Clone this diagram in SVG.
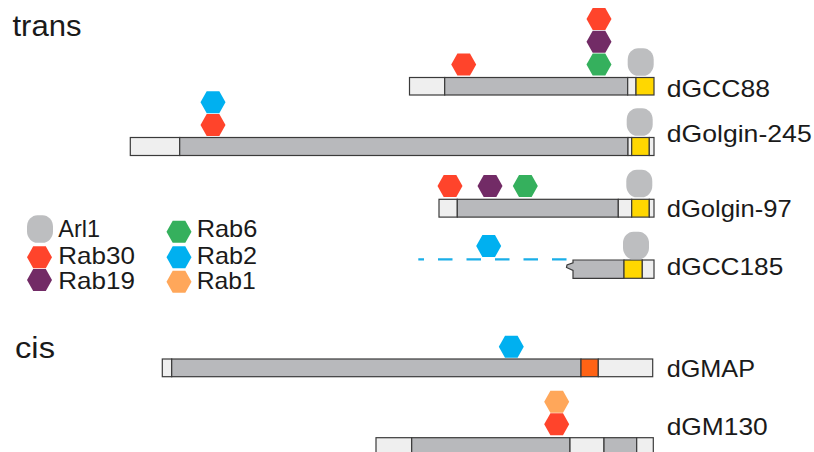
<svg xmlns="http://www.w3.org/2000/svg" xmlns:xlink="http://www.w3.org/1999/xlink" width="814" height="452" viewBox="0 0 814 452">
<style>
  text { font-family: "Liberation Sans", Arial, Helvetica, sans-serif; fill: #1a1a1a; }
  .lbl { font-size: 24.5px; }
  .leg { font-size: 24px; }
  .big { font-size: 29px; }
  .seg { stroke: #3a3a3a; stroke-width: 1.2; }
  .lt { fill: #efefef; }
  .gy { fill: #b8b9bc; }
  .yl { fill: #ffd700; }
  .or { fill: #ff6315; }
  .arl { fill: #bdbec0; }
  .r30 { fill: #ff442b; }
  .r19 { fill: #722b66; }
  .r6 { fill: #35b05d; }
  .r2 { fill: #00b0f0; }
  .r1 { fill: #ffa75a; }
</style>
<defs>
  <path id="hex" d="M-12.5,0 L-6.3,-11 L6.3,-11 L12.5,0 L6.3,11 L-6.3,11 Z"/>
  <rect id="arl" x="-13" y="-13.8" width="26" height="27.6" rx="10.5" ry="11.5"/>
</defs>
<rect width="814" height="452" fill="#ffffff"/>

<text class="big" x="12.5" y="36" textLength="69" lengthAdjust="spacingAndGlyphs">trans</text>
<text class="big" x="15" y="358" textLength="40" lengthAdjust="spacingAndGlyphs">cis</text>

<g id="legend">
  <use xlink:href="#arl" class="arl" x="40" y="229"/>
  <use xlink:href="#hex" class="r30" x="39.5" y="257.3"/>
  <use xlink:href="#hex" class="r19" x="39.5" y="280"/>
  <use xlink:href="#hex" class="r6" x="179" y="231.7"/>
  <use xlink:href="#hex" class="r2" x="179" y="257.3"/>
  <use xlink:href="#hex" class="r1" x="179" y="281.7"/>
  <text class="leg" x="58.3" y="237" textLength="41.7" lengthAdjust="spacingAndGlyphs">Arl1</text>
  <text class="leg" x="58.3" y="264" textLength="76.7" lengthAdjust="spacingAndGlyphs">Rab30</text>
  <text class="leg" x="58.3" y="289" textLength="76.7" lengthAdjust="spacingAndGlyphs">Rab19</text>
  <text class="leg" x="196.7" y="237" textLength="60.6" lengthAdjust="spacingAndGlyphs">Rab6</text>
  <text class="leg" x="196.7" y="264" textLength="60.3" lengthAdjust="spacingAndGlyphs">Rab2</text>
  <text class="leg" x="196.7" y="289" textLength="59" lengthAdjust="spacingAndGlyphs">Rab1</text>
</g>

<g id="dGCC88">
  <rect class="seg lt" x="409.5" y="77.5" width="35.2" height="17.5"/>
  <rect class="seg gy" x="444.7" y="77.5" width="183" height="17.5"/>
  <rect class="seg lt" x="627.7" y="77.5" width="8.3" height="17.5"/>
  <rect class="seg yl" x="636" y="77.5" width="18" height="17.5"/>
  <use xlink:href="#hex" class="r30" x="463.7" y="64.5"/>
  <use xlink:href="#hex" class="r6" x="599" y="64.5"/>
  <use xlink:href="#hex" class="r19" x="599" y="41.8"/>
  <use xlink:href="#hex" class="r30" x="599" y="19.1"/>
  <use xlink:href="#arl" class="arl" x="640.7" y="62"/>
  <text class="lbl" x="666.7" y="96.7" textLength="103.3" lengthAdjust="spacingAndGlyphs">dGCC88</text>
</g>

<g id="dGolgin-245">
  <rect class="seg lt" x="130.3" y="137.5" width="49.4" height="18"/>
  <rect class="seg gy" x="179.7" y="137.5" width="448.3" height="18"/>
  <rect class="seg lt" x="628" y="137.5" width="3.7" height="18"/>
  <rect class="seg yl" x="631.7" y="137.5" width="17.6" height="18"/>
  <rect class="seg lt" x="649.3" y="137.5" width="4.7" height="18"/>
  <use xlink:href="#hex" class="r2" x="213" y="102.3"/>
  <use xlink:href="#hex" class="r30" x="213" y="125"/>
  <use xlink:href="#arl" class="arl" x="639.7" y="122"/>
  <text class="lbl" x="666.7" y="141.7" textLength="145" lengthAdjust="spacingAndGlyphs">dGolgin-245</text>
</g>

<g id="dGolgin-97">
  <rect class="seg lt" x="439" y="199.3" width="18.3" height="17.8"/>
  <rect class="seg gy" x="457.3" y="199.3" width="161" height="17.8"/>
  <rect class="seg lt" x="618.3" y="199.3" width="13.4" height="17.8"/>
  <rect class="seg yl" x="631.7" y="199.3" width="17.6" height="17.8"/>
  <rect class="seg lt" x="649.3" y="199.3" width="4.7" height="17.8"/>
  <use xlink:href="#hex" class="r30" x="450" y="186"/>
  <use xlink:href="#hex" class="r19" x="490" y="186"/>
  <use xlink:href="#hex" class="r6" x="525.3" y="186"/>
  <use xlink:href="#arl" class="arl" x="639.3" y="183.5"/>
  <text class="lbl" x="666.7" y="216.7" textLength="125" lengthAdjust="spacingAndGlyphs">dGolgin-97</text>
</g>

<g id="dGCC185">
  <path class="seg gy" d="M573,260 L624,260 L624,278.3 L573,278.3 L573,270.5 L566.5,267.5 L567,265 L573,262.8 Z"/>
  <rect class="seg yl" x="624" y="260" width="18.3" height="18.3"/>
  <rect class="seg lt" x="642.3" y="260" width="11.7" height="18.3"/>
  <use xlink:href="#hex" class="r2" x="488.7" y="246"/>
  <use xlink:href="#arl" class="arl" x="636" y="245.5"/>
  <text class="lbl" x="666.7" y="275" textLength="116.6" lengthAdjust="spacingAndGlyphs">dGCC185</text>
</g>

<g id="dGMAP">
  <rect class="seg lt" x="162.3" y="359" width="9.4" height="17.7"/>
  <rect class="seg gy" x="171.7" y="359" width="409.3" height="17.7"/>
  <rect class="seg or" x="581" y="359" width="17.3" height="17.7"/>
  <rect class="seg lt" x="598.3" y="359" width="54.4" height="17.7"/>
  <use xlink:href="#hex" class="r2" x="511.3" y="346.7"/>
  <text class="lbl" x="666.7" y="377.3" textLength="88.3" lengthAdjust="spacingAndGlyphs">dGMAP</text>
</g>

<g id="dGM130">
  <rect class="seg lt" x="376" y="437.7" width="35.7" height="18"/>
  <rect class="seg gy" x="411.7" y="437.7" width="158.3" height="18"/>
  <rect class="seg lt" x="570" y="437.7" width="34" height="18"/>
  <rect class="seg gy" x="604" y="437.7" width="32.7" height="18"/>
  <rect class="seg lt" x="636.7" y="437.7" width="16.6" height="18"/>
  <use xlink:href="#hex" class="r1" x="556.7" y="401.7"/>
  <use xlink:href="#hex" class="r30" x="556.7" y="424.3"/>
  <text class="lbl" x="666.7" y="435" textLength="101" lengthAdjust="spacingAndGlyphs">dGM130</text>
</g>

<g id="connectors">
  <line x1="566.5" y1="259.4" x2="418.3" y2="259.4" stroke="#1aaee8" stroke-width="2.3" stroke-dasharray="14.5 14"/>
</g>
</svg>
